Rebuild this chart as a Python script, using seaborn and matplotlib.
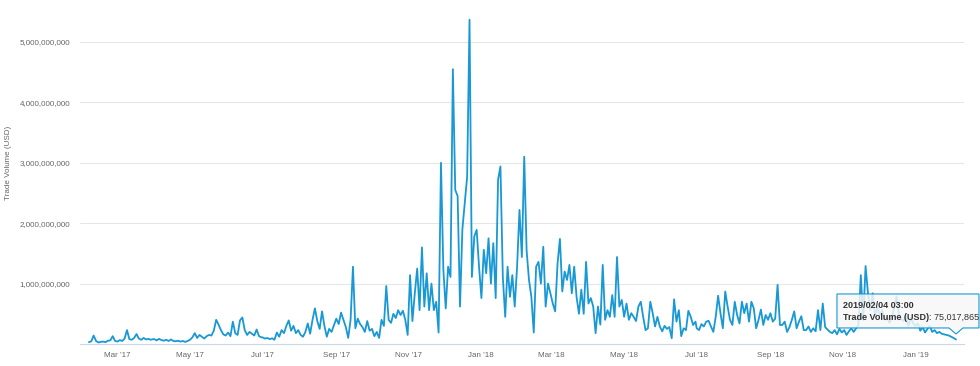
import numpy as np
import pandas as pd
import matplotlib
matplotlib.use('Agg')
import matplotlib.pyplot as plt
import matplotlib.dates as mdates
from matplotlib.ticker import FuncFormatter, FixedLocator
from matplotlib.patches import Polygon
import seaborn as sns

vol_2017_q1 = [30, 45, 140, 50, 25, 35, 40, 30, 55, 60, 130, 50, 40, 65, 50, 90, 230, 80, 70, 100,
               165, 90, 70, 100, 75, 85, 70, 80]
vol_2017_q2 = [80, 60, 85, 65, 55, 70, 50, 75, 50, 45, 55, 40, 50, 35, 50, 70, 110, 180, 100, 150,
               120, 90, 130, 150, 140, 220, 400, 320, 230, 160, 140, 190, 130, 370, 180, 150, 390, 440, 230, 150,
               200, 170, 140, 240, 130, 110]
vol_2017_q3 = [110, 90, 100, 80, 95, 70, 190, 120, 230, 180, 300, 390, 220, 300, 180, 230, 150, 120, 200, 340,
               170, 400, 590, 380, 250, 540, 300, 120, 250, 200, 310, 420, 330, 520, 400, 280, 100, 400, 1280, 260,
               420, 330, 280, 200, 380, 220]
vol_2017_q4 = [250, 130, 200, 100, 400, 300, 960, 400, 350, 500, 430, 560, 480, 550, 400, 150, 1140, 380, 840, 1250,
               560, 1600, 620, 1170, 560, 1000, 560, 700, 190, 3000, 1230, 590, 1280, 1110, 4550, 2550, 2450, 620, 1900, 2330,
               2770, 5370, 1110, 1780, 1890, 1280]
vol_2018_q1 = [760, 1560, 1170, 1750, 1000, 1670, 760, 2720, 2940, 1110, 450, 1280, 780, 1140, 620, 1280, 2220, 1440, 3100, 1550,
               1060, 780, 190, 1280, 1360, 1000, 1610, 620, 1000, 840, 670, 540, 1330, 1740, 870, 1200, 1060, 1310, 840, 1280,
               780, 500, 900, 500, 1360]
vol_2018_q2 = [670, 760, 620, 180, 620, 320, 1310, 400, 560, 450, 810, 450, 1440, 620, 730, 450, 670, 400, 510, 450,
               380, 620, 700, 450, 230, 260, 700, 510, 290, 450, 290, 210, 300, 250, 280, 95, 740, 370, 560, 130,
               260, 230, 550, 450, 315, 370]
vol_2018_q3 = [260, 230, 330, 290, 370, 385, 290, 200, 450, 800, 510, 260, 870, 620, 400, 315, 700, 480, 340, 700,
               510, 670, 370, 700, 590, 260, 400, 570, 315, 480, 400, 510, 370, 420, 980, 315, 315, 370, 200, 280,
               400, 540, 260, 370, 460, 230]
vol_2018_q4 = [230, 290, 200, 260, 210, 560, 230, 670, 280, 240, 200, 180, 230, 160, 250, 190, 230, 150, 210, 260,
               200, 260, 315, 1140, 400, 1290, 840, 560, 840, 450, 620, 480, 560, 400, 450, 350, 420, 600, 790, 500,
               420, 380, 450, 300, 430, 340]
vol_2019 = [300, 340, 220, 280, 190, 250, 300, 200, 230, 180, 200, 170, 160, 150, 140, 120, 100, 75.017865]

segments = [
    ('2017-02-05 03:00', '2017-03-31 03:00', vol_2017_q1),
    ('2017-04-01 03:00', '2017-06-30 03:00', vol_2017_q2),
    ('2017-07-01 03:00', '2017-09-29 03:00', vol_2017_q3),
    ('2017-10-01 03:00', '2017-12-30 03:00', vol_2017_q4),
    ('2018-01-01 03:00', '2018-03-30 03:00', vol_2018_q1),
    ('2018-04-01 03:00', '2018-06-30 03:00', vol_2018_q2),
    ('2018-07-01 03:00', '2018-09-29 03:00', vol_2018_q3),
    ('2018-10-01 03:00', '2018-12-30 03:00', vol_2018_q4),
    ('2019-01-01 03:00', '2019-02-04 03:00', vol_2019),
]

y_ticks = [1e9, 2e9, 3e9, 4e9, 5e9]
x_ticks = pd.date_range('2017-03-01', '2019-01-01', freq='2MS')

LINE = '#1898d5'
TEXT = '#666666'
AXIS = '#ccd6eb'


def build_df() -> pd.DataFrame:
    frames = []
    for start, end, vals in segments:
        frames.append(pd.DataFrame({
            'Date': pd.date_range(start, end, periods=len(vals)),
            'Volume': np.array(vals) * 1e6,
        }))
    return pd.concat(frames, ignore_index=True)


def draw_tooltip(fig, ax, date, value):
    W, H = fig.bbox.width, fig.bbox.height
    px, py = ax.transData.transform((mdates.date2num(date), value))

    left, right = px - 119, min(px + 23, W - 1)
    bottom, top = py + 11.5, py + 45.5
    tip = py + 5.5
    pts = [(left, top), (right, top), (right, bottom), (px + 7, bottom),
           (px, tip), (px - 7, bottom), (left, bottom)]
    pts = np.array(pts) / [W, H]
    fig.add_artist(Polygon(pts, closed=True, transform=fig.transFigure,
                           facecolor=(0.97, 0.97, 0.97, 0.85), edgecolor=LINE,
                           linewidth=0.8, zorder=5))

    tx = (left + 6) / W
    fig.text(tx, (py + 34) / H, date.strftime('%Y/%m/%d %H:%M'),
             fontsize=6.5, fontweight='bold', color='#333333', va='center', zorder=6)
    lab = fig.text(tx, (py + 22) / H, 'Trade Volume (USD)',
                   fontsize=6.5, fontweight='bold', color='#333333', va='center', zorder=6)
    fig.canvas.draw()
    ext = lab.get_window_extent()
    fig.text(ext.x1 / W, (py + 22) / H, f': {value:,.0f}',
             fontsize=6.5, color='#333333', va='center', zorder=6)


def graphic_volume():
    df = build_df()

    fig = plt.figure(figsize=(9.8, 3.66), dpi=100)
    ax = fig.add_axes([80 / 980, 22 / 366, 884 / 980, 334 / 366])

    sns.lineplot(data=df, x='Date', y='Volume', color=LINE, linewidth=1.3, ax=ax, zorder=3)

    ax.set_xlim(pd.Timestamp('2017-01-28 15:00'), pd.Timestamp('2019-02-10 21:00'))
    ax.set_ylim(0, 334 / 60.4 * 1e9)

    ax.yaxis.set_major_locator(FixedLocator(y_ticks))
    ax.yaxis.set_major_formatter(FuncFormatter(lambda v, p: f'{v:,.0f}'))
    ax.xaxis.set_major_locator(FixedLocator(mdates.date2num(x_ticks)))
    ax.xaxis.set_major_formatter(mdates.DateFormatter("%b '%y"))

    ax.grid(axis='y', color='#e6e6e6', linewidth=0.75)
    ax.grid(axis='x', visible=False)
    ax.set_axisbelow(True)

    for side in ['top', 'right', 'left']:
        ax.spines[side].set_visible(False)
    ax.spines['bottom'].set_color(AXIS)
    ax.spines['bottom'].set_linewidth(0.8)

    ax.tick_params(axis='y', length=0, pad=7, labelsize=5.8, labelcolor=TEXT)
    ax.tick_params(axis='x', length=4, width=0.8, color=AXIS, pad=2,
                   labelsize=5.8, labelcolor=TEXT)

    ax.set_xlabel('')
    ax.set_ylabel('Trade Volume (USD)', fontsize=5.8, color=TEXT)
    ax.yaxis.set_label_coords(-0.0765, 0.543)

    last = df.iloc[-1]
    draw_tooltip(fig, ax, last['Date'], last['Volume'])

    plt.savefig('out.png', dpi=100)


if __name__ == '__main__':
    sns.set_theme(style='white')
    plt.rcParams['font.family'] = ['Liberation Sans', 'DejaVu Sans']
    graphic_volume()
